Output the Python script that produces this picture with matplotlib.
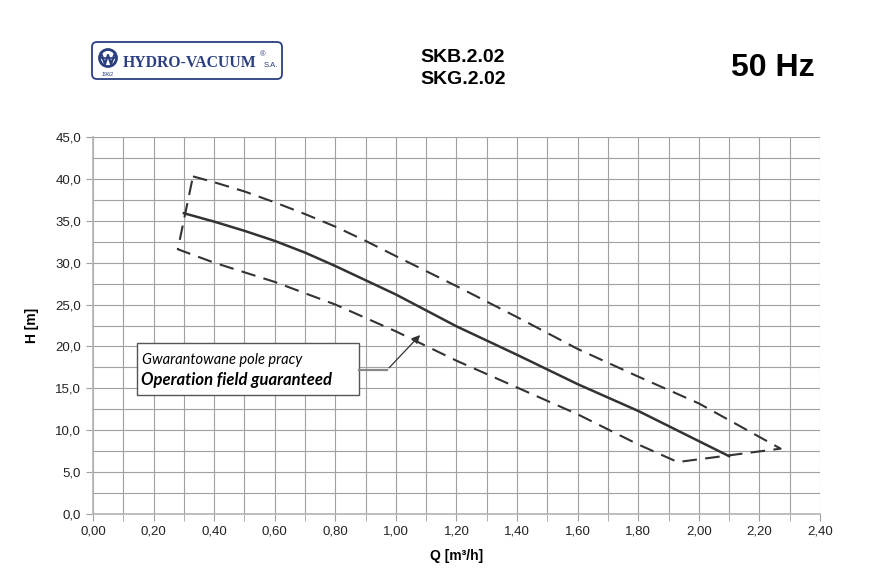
import numpy as np
import matplotlib
matplotlib.use("Agg")
import matplotlib.pyplot as plt
from matplotlib.patches import FancyBboxPatch, Rectangle, Circle
from matplotlib.ticker import MultipleLocator, FuncFormatter

# krzywa pompy (Q [m3/h], H [m])
Q_main = [0.30, 0.40, 0.50, 0.60, 0.70, 0.80, 0.90, 1.00, 1.20, 1.40, 1.60, 1.80, 2.00, 2.10]
H_main = [35.9, 34.9, 33.8, 32.6, 31.2, 29.6, 27.9, 26.2, 22.4, 19.0, 15.5, 12.3, 8.7, 6.9]

# granice pola pracy
Q_up = [0.33, 0.40, 0.50, 0.60, 0.70, 0.80, 0.90, 1.01, 1.20, 1.40, 1.60, 1.80, 2.00, 2.27]
H_up = [40.3, 39.6, 38.5, 37.2, 35.8, 34.3, 32.6, 30.6, 27.2, 23.5, 19.7, 16.4, 13.2, 7.8]
Q_lo = [0.28, 0.40, 0.60, 0.80, 1.00, 1.20, 1.40, 1.60, 1.80, 1.93]
H_lo = [31.6, 30.0, 27.7, 25.0, 21.8, 18.3, 15.1, 11.9, 8.3, 6.2]

Q_bound = Q_up + Q_lo[::-1] + [Q_up[0]]
H_bound = H_up + H_lo[::-1] + [H_up[0]]

plt.rcParams['font.family'] = ['Liberation Sans', 'DejaVu Sans']

fig = plt.figure(figsize=(8.95, 5.70), dpi=100)
W, Hpx = 895, 570
ax = fig.add_axes([93 / W, 1 - 514 / Hpx, (820 - 93) / W, (514 - 137) / Hpx])

ax.set_xlim(0, 2.4)
ax.set_ylim(0, 45)
ax.xaxis.set_major_locator(MultipleLocator(0.2))
ax.xaxis.set_minor_locator(MultipleLocator(0.1))
ax.yaxis.set_major_locator(MultipleLocator(5))
ax.yaxis.set_minor_locator(MultipleLocator(2.5))
ax.xaxis.set_major_formatter(FuncFormatter(lambda v, p: f"{v:.2f}".replace('.', ',')))
ax.yaxis.set_major_formatter(FuncFormatter(lambda v, p: f"{v:.1f}".replace('.', ',')))
ax.grid(which='both', color='#a0a0a0', lw=0.8)
ax.set_axisbelow(True)
for s in ['top', 'right']:
    ax.spines[s].set_visible(False)
for s in ['left', 'bottom']:
    ax.spines[s].set_color('#b4b4b4')
    ax.spines[s].set_linewidth(1.2)
ax.tick_params(which='both', colors='#a0a0a0', labelcolor='#222222', labelsize=9.5, length=5)
ax.tick_params(axis='y', which='minor', length=0)

ax.plot(Q_bound, H_bound, color='#333333', lw=1.5, ls=(0, (7, 4)))
ax.plot(Q_main, H_main, color='#333333', lw=1.8)

ax.set_xlabel('Q [m³/h]', fontsize=10, fontweight='bold', labelpad=8)
ax.set_ylabel('H [m]', fontsize=10, fontweight='bold', labelpad=12)

# ramka z opisem
ax.add_patch(Rectangle((0.145, 14.2), 0.733, 6.2, facecolor='white', edgecolor='#555555', lw=1, zorder=5))
ax.text(0.162, 17.9, 'Gwarantowane pole pracy', fontsize=10.5, style='italic',
        family=['Lato', 'DejaVu Sans'], zorder=6)
ax.text(0.160, 15.4, 'Operation field guaranteed', fontsize=12, style='italic', fontweight='bold',
        family=['Lato', 'DejaVu Sans'], zorder=6)
ax.plot([0.878, 0.971], [17.2, 17.2], color='#888888', lw=1.6, zorder=5)
ax.annotate('', xy=(1.086, 21.6), xytext=(0.971, 17.2),
            arrowprops=dict(arrowstyle='-|>', color='#333333', lw=0.9, mutation_scale=12), zorder=5)

# naglowek (piksele)
ov = fig.add_axes([0, 0, 1, 1])
ov.set_xlim(0, W)
ov.set_ylim(Hpx, 0)
ov.axis('off')
ov.add_patch(FancyBboxPatch((92, 42), 190, 37, boxstyle='round,pad=0,rounding_size=5',
                            facecolor='white', edgecolor='#2b3f80', lw=1.3))
ov.add_patch(Circle((108, 58), 8.5, facecolor='none', edgecolor='#2b3f80', lw=2))
ov.plot([101, 105, 108, 111, 115], [53, 64, 55, 64, 53], color='#2b3f80', lw=1.6)
ov.plot([101, 115], [58, 58], color='#2b3f80', lw=1.2)
ov.text(108, 74, '1962', fontsize=4, color='#2b3f80', ha='center', va='center')
ov.text(123, 67, 'HYDRO-VACUUM', fontsize=11.3, fontweight='bold', color='#2b3f80',
        family=['Liberation Serif', 'DejaVu Serif'], va='baseline')
ov.text(260, 56, '®', fontsize=5.5, color='#2b3f80', va='baseline')
ov.text(264, 67, 'S.A.', fontsize=5.5, color='#2b3f80', va='baseline')

ov.text(420, 62, 'SKB.2.02', fontsize=14, fontweight='bold', va='baseline')
ov.text(420, 84, 'SKG.2.02', fontsize=14, fontweight='bold', va='baseline')
ov.text(731, 76, '50 Hz', fontsize=23, fontweight='bold', va='baseline')

fig.savefig('out.png', dpi=100)
